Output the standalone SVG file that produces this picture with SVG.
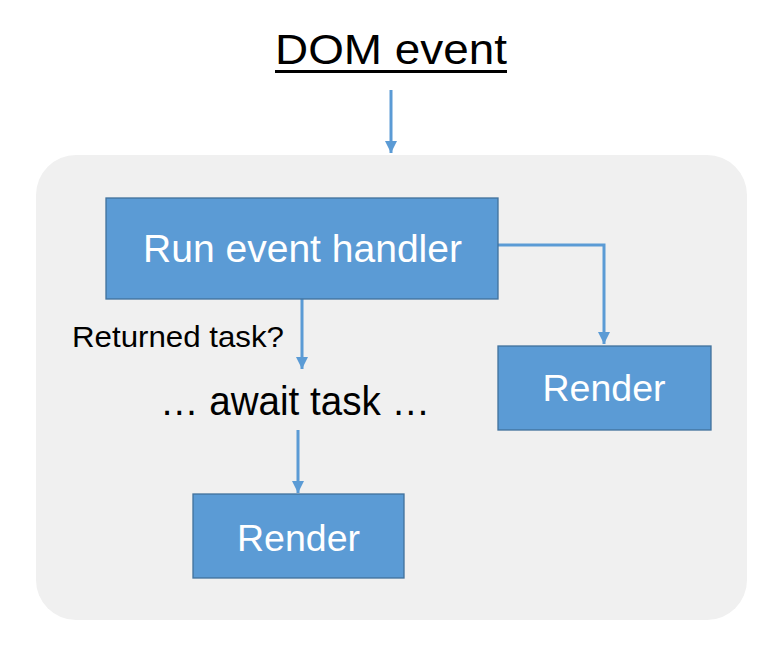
<svg xmlns="http://www.w3.org/2000/svg" width="781" height="655" viewBox="0 0 781 655">
<defs>
<style>
.box{fill:#5b9bd5;stroke:#41719c;stroke-width:1.3}
.lbl{font-family:"Liberation Sans",Arial,sans-serif;fill:#fff;text-anchor:middle}
.txt{font-family:"Liberation Sans",Arial,sans-serif;fill:#000}
.conn{fill:none;stroke:#5b9bd5;stroke-width:3;marker-end:url(#ah)}
</style>
<marker id="ah" viewBox="0 0 10 10" refX="10" refY="5" markerWidth="4" markerHeight="4" orient="auto" markerUnits="strokeWidth">
<path d="M0,0 L10,5 L0,10 z" fill="#5b9bd5"/>
</marker>
</defs>
<rect width="781" height="655" fill="#fff"/>
<rect id="container" x="36" y="155" width="711" height="465" rx="40" ry="40" fill="#f0f0f0"/>
<g id="title">
<text class="txt" x="275" y="64" font-size="42" textLength="232" lengthAdjust="spacingAndGlyphs">DOM event</text>
<rect x="275" y="70" width="232" height="3" fill="#000"/>
</g>
<g id="connectors">
<path class="conn" d="M391,90 V153"/>
<path class="conn" d="M498,245 H604 V344"/>
<path class="conn" d="M302,299 V369"/>
<path class="conn" d="M298,430 V493"/>
</g>
<g id="run-handler">
<rect class="box" x="106" y="198" width="392" height="101"/>
<text class="lbl" x="302.5" y="262" font-size="38" textLength="319" lengthAdjust="spacingAndGlyphs">Run event handler</text>
</g>
<g id="returned-label">
<text class="txt" x="72" y="347" font-size="29" textLength="212" lengthAdjust="spacingAndGlyphs">Returned task?</text>
</g>
<g id="await-task">
<text class="txt" x="295" y="415" font-size="40" text-anchor="middle" textLength="270" lengthAdjust="spacingAndGlyphs">… await task …</text>
</g>
<g id="render-right">
<rect class="box" x="498" y="346" width="213" height="84"/>
<text class="lbl" x="604" y="401" font-size="37" textLength="123" lengthAdjust="spacingAndGlyphs">Render</text>
</g>
<g id="render-bottom">
<rect class="box" x="193" y="494" width="211" height="84"/>
<text class="lbl" x="298.5" y="551" font-size="37" textLength="123" lengthAdjust="spacingAndGlyphs">Render</text>
</g>
</svg>
